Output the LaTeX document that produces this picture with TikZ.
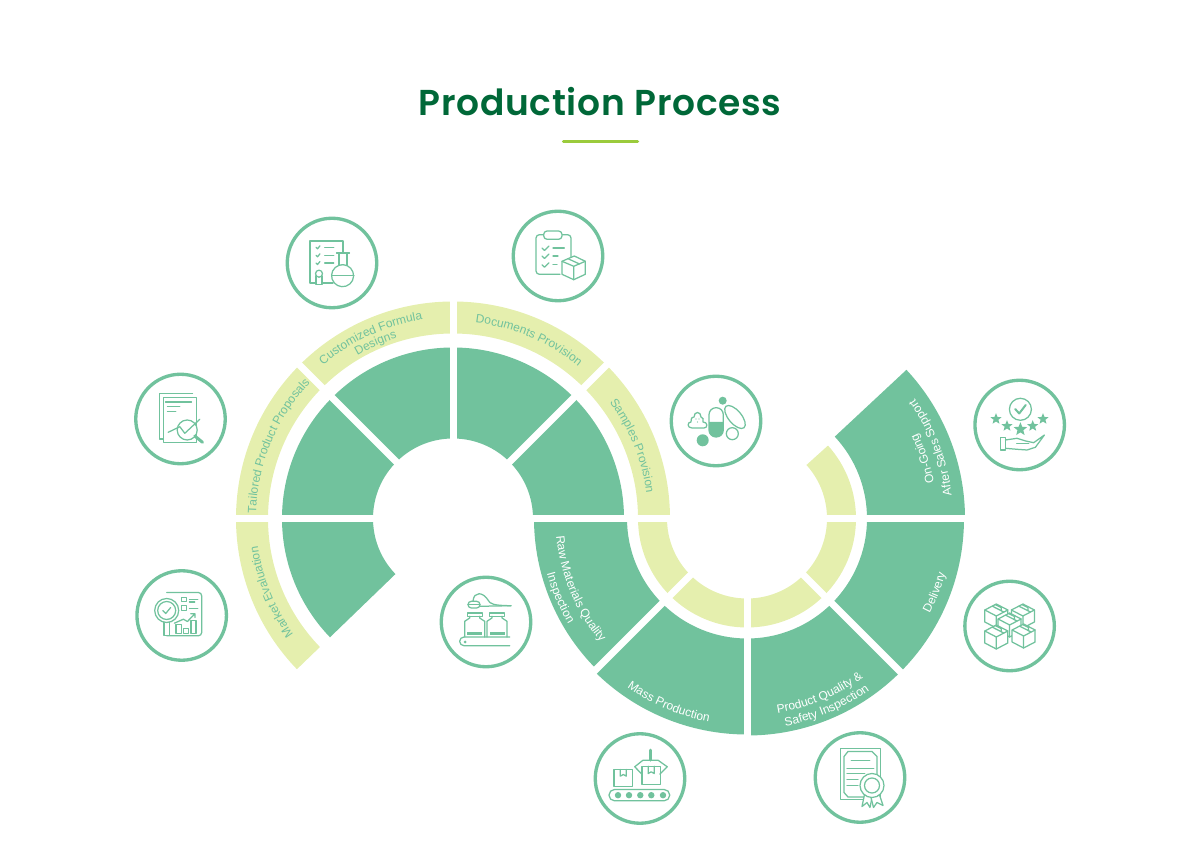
\documentclass[tikz,border=0pt]{standalone}
\usepackage{fontspec}
\usepackage{xcolor}
\setmainfont{Liberation Sans}
\newfontfamily\headfont[LetterSpace=2]{Poppins SemiBold}
\usetikzlibrary{calc, shapes.geometric, decorations.text}
\definecolor{leaf}{RGB}{113, 194, 157}
\definecolor{paleband}{RGB}{229, 239, 174}
\definecolor{headgreen}{RGB}{0, 104, 56}
\definecolor{limebar}{RGB}{155, 203, 60}

\newcommand{\ringsector}[6]{%
  \fill[#1] ($(#2)+(#3:#6)$) arc[start angle=#3, end angle=#4, radius=#6]
    -- ($(#2)+(#4:#5)$) arc[start angle=#4, end angle=#3, radius=#5] -- cycle;}
\newcommand{\arctext}[6]{%
  \path[decorate, decoration={text along path, text align=center,
      text={|\fontsize{7.2}{9}\selectfont\color{#1}|#6}}]
    ($(#2)+(#4+#5:#3)$) arc[start angle=#4+#5, end angle=#4-#5, radius=#3];}

\tikzset{
  ink/.style={draw=leaf, line width=0.75pt, line join=round, line cap=round},
  inkw/.style={ink, fill=white},
  inkfill/.style={fill=leaf},
  pics/formulaicon/.style={code={
    \draw[ink] (1,-20) -- (-22,-20) -- (-22,22) -- (11,22) -- (11,10);
    \foreach \y/\x in {15.7/1.7, 7.7/1.7, 0/1.7} {
      \draw[ink] (-16,\y) -- (-14.5,\y-1.5) -- (-12,\y+1.5);
      \draw[ink] (-7.3,\y) -- (\x,\y);
    }
    \draw[ink] (4.5,10) -- (17.5,10) (7,10) -- (7,-3) (15,10) -- (15,-3);
    \draw[inkw] (7,-2.3) arc[start angle=109, end angle=-289, radius=11];
    \draw[ink] (0,-12.7) -- (22,-12.7);
    \draw[inkw] (-16,-13) rectangle (-10,-21.7);
    \draw[inkw] (-13,-10.7) circle (3.5);
  }},
  pics/proposalicon/.style={code={
    \draw[ink] (12,25.7) -- (-21,25.7) -- (-21,-20) -- (-17,-20);
    \draw[inkw] (-17,21.7) rectangle (16,-23.7);
    \draw[ink] (-15,17) -- (11,17) (-13,12.3) -- (-0.7,12.3) (-13,7.7) -- (-4.7,7.7);
    \draw[inkw] (6.7,-11) circle (10);
    \draw[ink] (-12.3,-13.3) -- (-0.7,-7.7) -- (4.3,-14.3) -- (19.3,-0.3);
    \draw[ink, line width=1.8pt] (14.3,-17) -- (22,-23.3);
  }},
  pics/papersicon/.style={code={
    \draw[ink, rounded corners=2pt] (2,-18.3) -- (-22,-18.3) -- (-22,21.3) -- (13,21.3) -- (13,-2);
    \draw[inkw, rounded corners=2pt] (-14.3,25) rectangle (4,16.7);
    \foreach \y/\x in {8/6.3, 0/0, -8.7/-1} {
      \draw[ink] (-16,\y) -- (-13.5,\y-2.5) -- (-9,\y+2);
      \draw[ink] (-5,\y) -- (\x,\y);
    }
    \draw[inkw] (4,-5.3) -- (16.3,0) -- (27.3,-5.3) -- (27.3,-18.3) -- (15.7,-23.7) -- (4,-18.3) -- cycle;
    \draw[ink] (4,-5.3) -- (15.7,-10.3) -- (27.3,-5.3) (15.7,-10.3) -- (15.7,-23.7);
    \draw[ink] (10,-2.7) -- (21.5,-8);
  }},
  pics/samplesicon/.style={code={
    \fill[inkfill] (-7,-1) -- (7.3,-1) -- (7.3,-9) arc[start angle=0, end angle=-180, x radius=7.15, y radius=7] -- cycle;
    \draw[ink, rounded corners=4.2pt] (-7,13.3) rectangle (7.3,-16);
    \fill[inkfill] (6.7,20.3) circle (4) (-13.3,-19.3) circle (6);
    \draw[ink, rotate around={-50:(19,4)}] (19,4) ellipse (14 and 6.5);
    \draw[ink] (16.3,-12.7) circle (6);
    \draw[ink] (-24,-7) .. controls (-29,-7) and (-29,-1) .. (-25,-1)
      .. controls (-25,4) and (-23,4) .. (-22,4) .. controls (-22,10) and (-15,10) .. (-15,4)
      .. controls (-13,4) and (-12,1) .. (-13,-1) .. controls (-8,-1) and (-8,-7) .. (-12,-7) -- cycle;
    \fill[inkfill] (-20,2) circle (0.7) (-17,2) circle (0.7) (-18.5,-1) circle (0.7);
  }},
  pics/marketicon/.style={code={
    \draw[ink, rounded corners=2pt] (-15,23) -- (20,23) -- (20,-20.3) -- (-15,-20.3);
    \draw[inkw] (-17.7,-6) rectangle (-12.3,-20.3);
    \draw[inkw] (-15,5) circle (12);
    \draw[ink] (-15,5) circle (9);
    \draw[ink] (-19,5) -- (-16,2) -- (-11,8);
    \draw[ink] (0,18.3) rectangle (5,14) (0,9.7) rectangle (5,5);
    \draw[ink] (7.7,16.3) -- (16,16.3) (7.7,13.5) -- (13,13.5) (7.7,7.3) -- (16,7.3);
    \draw[ink] (-7.3,-7.7) -- (1.7,-3.7) -- (5.7,-6) -- (13.3,1.7) (9,1.7) -- (13.3,1.7) -- (13.3,-2);
    \draw[ink] (-5.7,-9.3) rectangle (0,-17.7) (1.7,-12.7) rectangle (6.7,-17.7) (9.3,-5) rectangle (14.3,-17.7);
  }},
  pics/fillingicon/.style={code={
    \draw[ink] (23.7,-15) -- (-22,-15) arc[start angle=90, end angle=270, radius=4.35] -- (23.7,-23.7);
    \fill[inkfill] (-21,-20) circle (1.5);
    \foreach \x in {-11.3,11} {
      \begin{scope}[shift={(\x,0)}]
        \draw[ink] (-10,-15) -- (-10,0.7) -- (-5,4) -- (-5,5.7) (10,-15) -- (10,0.7) -- (5,4) -- (5,5.7);
        \draw[ink] (-7.5,9) rectangle (7.5,5.7);
        \fill[inkfill] (-7.5,-10) rectangle (7.5,-13);
      \end{scope}
    }
    \draw[ink, rounded corners=2pt] (-18,20.7) rectangle (-6,14);
    \draw[ink] (-18,17.3) -- (-6,17.3);
    \draw[ink] (-13,21) .. controls (-12,31) and (-3,30) .. (2,22) .. controls (4,18) and (7,16.5) .. (25,16.3);
    \draw[ink] (-6,15.7) -- (25,16.3);
  }},
  pics/massicon/.style={code={
    \draw[ink, rounded corners=3.3pt] (-31,-11) rectangle (29.7,-22.3);
    \foreach \x in {-22,-11,0.3,11.3,23} { \fill[inkfill] (\x,-16.7) circle (3.2); }
    \draw[ink] (-26,9) rectangle (-7.7,-8.3);
    \draw[ink] (-19.7,9) -- (-19.7,2.3) -- (-16.7,4) -- (-13.7,2.3) -- (-13.7,9);
    \draw[ink] (2,12.3) rectangle (20.3,-5.7);
    \draw[ink] (8.2,12.3) -- (8.2,5) -- (11.2,6.7) -- (14.2,5) -- (14.2,12.3);
    \draw[ink, line width=1.8pt] (10.3,28.3) -- (10.3,18.3);
    \draw[ink] (2,4.3) -- (-5.3,11.7) -- (3,18.3) -- (18,18.3) -- (27.3,11.7) -- (19.7,4.3);
  }},
  pics/certicon/.style={code={
    \draw[ink] (-19.7,28.7) rectangle (20.3,-22.3);
    \draw[ink] (-12,26) -- (12,26) -- (17,21) -- (17,-15) -- (12,-19.5) -- (-12,-19.5) -- (-16,-15) -- (-16,21) -- cycle;
    \draw[ink] (-8.7,16.7) -- (9.7,16.7) (-13,9.3) -- (13.7,9.3) (-13,3.7) -- (4.7,3.7)
      (-13,-2.3) -- (-2,-2.3) (-13,-8) -- (-2,-8);
    \draw[inkw] (4.5,-17) -- (2,-29) -- (7,-25) -- (10,-30) -- (12,-20);
    \draw[inkw] (19,-16) -- (23,-28) -- (17,-25) -- (13.5,-30) -- (11,-20);
    \draw[inkw] (12,-8) circle (12);
    \draw[ink] (12,-8) circle (7.5);
  }},
  pics/cubeicon/.style={code={
    \draw[inkw] (-11.5,4) -- (0,10) -- (11.5,4) -- (11.5,-8) -- (0,-14) -- (-11.5,-8) -- cycle;
    \draw[ink] (-11.5,4) -- (0,-2) -- (11.5,4) (0,-2) -- (0,-14);
    \draw[ink] (-4,7.8) -- (7.5,2) (-1,9.4) -- (5,6.4) (5,6.4) -- (5,3);
  }},
  pics/boxesicon/.style={code={
    \pic at (-13.3,12) {cubeicon};
    \pic at (13.3,12) {cubeicon};
    \pic at (0,3) {cubeicon};
    \pic at (-13.3,-9) {cubeicon};
    \pic at (14,-8) {cubeicon};
  }},
  pics/supporticon/.style={code={
    \draw[ink] (0.7,15.7) circle (11);
    \draw[ink, line width=1.2pt] (-4.5,16) -- (-0.5,11.5) -- (6,20);
    \foreach \x/\y/\s [count=\i] in {-23.7/6/7, -12.7/-1/7, 0.7/-4.3/8.5, 13/-1/7, 23.3/6/7} {
      \node[star, star points=5, star point ratio=2.3, fill=leaf, inner sep=0pt, minimum size=\s pt] (spark\i) at (\x,\y) {};
    }
    \draw[ink] (-19.3,-12.7) rectangle (-14.3,-25);
    \draw[ink] (-14.3,-15) -- (-2.7,-13.3) -- (6,-16) -- (14,-17.7) -- (24.7,-10) -- (15.7,-22.3) -- (7.3,-25) -- (-2.7,-24.3) -- (-14.3,-23.3);
    \draw[ink] (-3,-18.5) -- (9,-18.5);
  }},
}

\begin{document}
\begin{tikzpicture}[
    x=0.6pt, y=0.6pt,
    badge/.style={draw=leaf, line width=2pt, circle, fill=white, minimum size=53.7pt, inner sep=0pt},
    title/.style={font=\fontsize{21.6}{26}\headfont, text=headgreen, anchor=base},
    gapline/.style={draw=white, line width=4.2pt},
    underbar/.style={draw=limebar, line width=2.1pt, line cap=round},
  ]
  \path[use as bounding box] (0,0) rectangle (1200,864);
  \coordinate (upper) at (453,345.5);
  \coordinate (lower) at (747,345.5);

  \node[title] (heading) at (600,748) {Production Process};
  \coordinate (barleft) at (563.5,722.3);
  \coordinate (barright) at (637.5,722.3);
  \draw[underbar] (barleft) -- (barright);

  % bands
  \ringsector{leaf}{upper}{0}{224}{80}{171}
  \ringsector{paleband}{upper}{0}{224}{185}{217}
  \ringsector{paleband}{lower}{180}{402}{80}{109}
  \ringsector{leaf}{lower}{180}{225}{120}{213}
  \ringsector{leaf}{lower}{225}{270}{120}{216}
  \ringsector{leaf}{lower}{270}{360}{120}{217}
  \ringsector{leaf}{lower}{0}{43}{120}{218}

  \foreach \a in {0,45,90,135,180} { \draw[gapline] ($(upper)+(\a:75)$) -- ($(upper)+(\a:225)$); }
  \foreach \a in {0,225,270,315} { \draw[gapline] ($(lower)+(\a:75)$) -- ($(lower)+(\a:225)$); }

  % labels
  \arctext{leaf}{upper}{197}{202}{40}{Market Evaluation}
  \arctext{leaf}{upper}{197}{157.5}{40}{Tailored Product Proposals}
  \arctext{leaf}{upper}{201}{114.5}{40}{Customized Formula}
  \arctext{leaf}{upper}{189}{113.8}{40}{Designs}
  \arctext{leaf}{upper}{197}{67}{40}{Documents Provision}
  \arctext{leaf}{upper}{195}{22}{40}{Samples Provision}
  \arctext{white}{lower}{191.5}{202.7}{-40}{Raw Materials Quality}
  \arctext{white}{lower}{207.5}{203}{-40}{Inspection}
  \arctext{white}{lower}{207}{247}{-40}{Mass Production}
  \arctext{white}{lower}{197}{292.5}{-40}{Product Quality {\&}}
  \arctext{white}{lower}{211}{293}{-40}{Safety Inspection}
  \arctext{white}{lower}{206}{-21.5}{-40}{Delivery}
  \arctext{white}{lower}{190.5}{18.8}{-40}{On-Going}
  \arctext{white}{lower}{206}{21}{-40}{After Sales Support}

  % badges
  \node[badge] (market) at (181.7,248.5) {};
  \node[badge] (proposal) at (180.5,445) {};
  \node[badge] (formula) at (332,601) {};
  \node[badge] (papers) at (558,608) {};
  \node[badge] (samples) at (716,443) {};
  \node[badge] (filling) at (486,242) {};
  \node[badge] (mass) at (640,85.5) {};
  \node[badge] (cert) at (860,86.5) {};
  \node[badge] (boxes) at (1009.6,238) {};
  \node[badge] (support) at (1019.7,439) {};

  \pic at (market) {marketicon};
  \pic at (proposal) {proposalicon};
  \pic at (formula) {formulaicon};
  \pic at (papers) {papersicon};
  \pic at (samples) {samplesicon};
  \pic at (filling) {fillingicon};
  \pic at (mass) {massicon};
  \pic at (cert) {certicon};
  \pic at (boxes) {boxesicon};
  \pic at (support) {supporticon};
\end{tikzpicture}
\end{document}
